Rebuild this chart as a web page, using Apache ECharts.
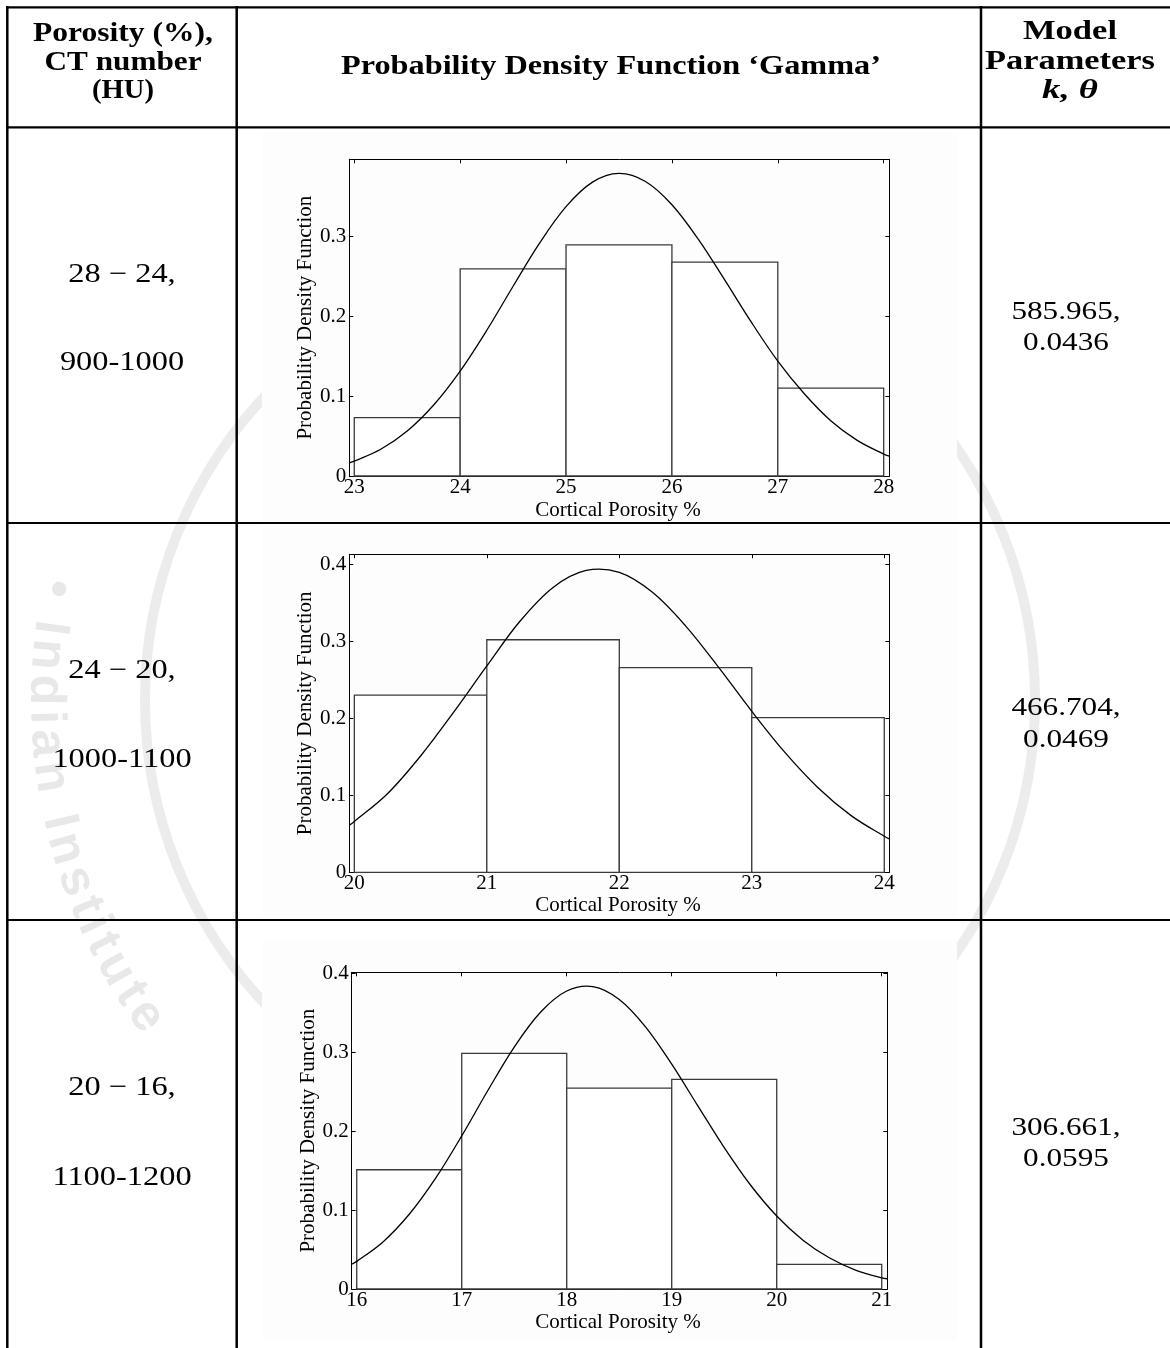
<!DOCTYPE html>
<html><head><meta charset="utf-8">
<script src="https://cdn.jsdelivr.net/npm/echarts@6/dist/echarts.min.js"></script>
<style>html,body{margin:0;padding:0;background:#fff;}#c{width:1170px;height:1348px;}</style>
</head><body><div id="c"></div>
<script>
// ---------------- DATA ----------------
const headerCol1 = ['Porosity (%),', 'CT number', '(HU)'];
const headerCol2 = 'Probability Density Function \u2018Gamma\u2019';
const headerCol3 = ['Model', 'Parameters', 'k, \u03b8'];
const rowPorosity = ['28 \u2212 24,', '24 \u2212 20,', '20 \u2212 16,'];
const rowCT = ['900-1000', '1000-1100', '1100-1200'];
const rowK = ['585.965,', '466.704,', '306.661,'];
const rowTheta = ['0.0436', '0.0469', '0.0595'];
const xAxisTitle = 'Cortical Porosity %';
const yAxisTitle = 'Probability Density Function';
const watermarkText = '\u2022 Indian Institute';

// histogram 1 (23-28)
const binEdges1 = [23, 24, 25, 26, 27, 28];
const binHeights1 = [0.073, 0.259, 0.289, 0.2675, 0.110];
const xTicks1 = [23, 24, 25, 26, 27, 28];
const yTicks1 = [0, 0.1, 0.2, 0.3];
const curveX1 = [22.953, 23, 23.25, 23.5, 23.75, 24, 24.25, 24.5, 24.75, 25, 25.25, 25.5, 25.75, 26, 26.25, 26.5, 26.75, 27, 27.25, 27.5, 27.75, 28, 28.053];
const curveY1 = [0.0164, 0.0186, 0.0335, 0.0563, 0.0888, 0.1312, 0.1819, 0.2373, 0.2912, 0.3368, 0.3674, 0.3783, 0.3682, 0.3392, 0.2959, 0.2448, 0.1923, 0.1436, 0.1028, 0.0691, 0.0445, 0.0274, 0.0248];
const xRange1 = [22.953, 28.053];
const yMax1 = 0.396;

// histogram 2 (20-24)
const binEdges2 = [20, 21, 22, 23, 24];
const binHeights2 = [0.230, 0.302, 0.2657, 0.201];
const xTicks2 = [20, 21, 22, 23, 24];
const yTicks2 = [0, 0.1, 0.2, 0.3, 0.4];
const curveX2 = [19.962, 20, 20.25, 20.5, 20.75, 21, 21.25, 21.5, 21.75, 22, 22.25, 22.5, 22.75, 23, 23.25, 23.5, 23.75, 24, 24.038];
const curveY2 = [0.061, 0.066, 0.102, 0.151, 0.208, 0.268, 0.326, 0.370, 0.392, 0.3894, 0.3636, 0.3201, 0.2661, 0.2091, 0.1557, 0.1099, 0.0736, 0.0468, 0.0435];
const xRange2 = [19.962, 24.038];
const yMax2 = 0.413;

// histogram 3 (16-21)
const binEdges3 = [16, 17, 18, 19, 20, 21];
const binHeights3 = [0.151, 0.2983, 0.2544, 0.2654, 0.0313];
const xTicks3 = [16, 17, 18, 19, 20, 21];
const yTicks3 = [0, 0.1, 0.2, 0.3, 0.4];
const curveX3 = [15.952, 16, 16.25, 16.5, 16.75, 17, 17.25, 17.5, 17.75, 18, 18.25, 18.5, 18.75, 19, 19.25, 19.5, 19.75, 20, 20.25, 20.5, 20.75, 21, 21.053];
const curveY3 = [0.0313, 0.0350, 0.0596, 0.0946, 0.1400, 0.1939, 0.2516, 0.3063, 0.3504, 0.3773, 0.3828, 0.3666, 0.3320, 0.2847, 0.2316, 0.1791, 0.1317, 0.0924, 0.0618, 0.0395, 0.0240, 0.0140, 0.0130];
const xRange3 = [15.952, 21.053];
const yMax3 = 0.401;

// ---------------- LAYOUT ----------------
const SERIF = "'Liberation Serif','Times New Roman',serif";
const charts = [
  {edges: binEdges1, heights: binHeights1, xt: xTicks1, yt: yTicks1, cx: curveX1, cy: curveY1, xr: xRange1, ymax: yMax1,
   grid: {left: 349.3, top: 159.3, width: 540, height: 316.7}, img: [262, 133, 695, 388], ytx: 305, xty: 510},
  {edges: binEdges2, heights: binHeights2, xt: xTicks2, yt: yTicks2, cx: curveX2, cy: curveY2, xr: xRange2, ymax: yMax2,
   grid: {left: 349.3, top: 554.3, width: 540, height: 318}, img: [262, 528, 695, 390], ytx: 305, xty: 905},
  {edges: binEdges3, heights: binHeights3, xt: xTicks3, yt: yTicks3, cx: curveX3, cy: curveY3, xr: xRange3, ymax: yMax3,
   grid: {left: 351.7, top: 972.3, width: 535.6, height: 316.7}, img: [262, 940, 695, 400], ytx: 308, xty: 1322}
];

const grids = [], xAxes = [], yAxes = [], series = [], graphics = [];

function axisCommon() {
  return {
    axisLine: {show: true, onZero: false, lineStyle: {color: '#000', width: 1}},
    splitLine: {show: false}
  };
}

charts.forEach((c, g) => {
  grids.push(Object.assign({containLabel: false}, c.grid));
  const tickStyle = {show: true, inside: true, length: 4, lineStyle: {color: '#000', width: 1}};
  xAxes.push(Object.assign(axisCommon(), {
    gridIndex: g, type: 'value', position: 'bottom', min: c.xr[0], max: c.xr[1],
    axisTick: Object.assign({customValues: c.xt}, tickStyle),
    axisLabel: {customValues: c.xt, color: '#000', fontFamily: SERIF, fontSize: 21, margin: 1}
  }));
  xAxes.push(Object.assign(axisCommon(), {
    gridIndex: g, type: 'value', position: 'top', min: c.xr[0], max: c.xr[1],
    axisTick: Object.assign({customValues: c.xt}, tickStyle),
    axisLabel: {show: false}
  }));
  yAxes.push(Object.assign(axisCommon(), {
    gridIndex: g, type: 'value', position: 'left', min: 0, max: c.ymax,
    axisTick: Object.assign({customValues: c.yt}, tickStyle),
    axisLabel: {customValues: c.yt, color: '#000', fontFamily: SERIF, fontSize: 21, margin: 3}
  }));
  yAxes.push(Object.assign(axisCommon(), {
    gridIndex: g, type: 'value', position: 'right', min: 0, max: c.ymax,
    axisTick: Object.assign({customValues: c.yt}, tickStyle),
    axisLabel: {show: false}
  }));
  const bins = c.heights.map((h, i) => [c.edges[i], c.edges[i + 1], h]);
  series.push({
    type: 'custom', xAxisIndex: 2 * g, yAxisIndex: 2 * g, data: bins,
    encode: {x: [0, 1], y: 2}, z: 2, silent: true,
    renderItem: function (params, api) {
      const p0 = api.coord([api.value(0), 0]);
      const p1 = api.coord([api.value(1), api.value(2)]);
      return {type: 'rect', shape: {x: p0[0], y: p1[1], width: p1[0] - p0[0], height: p0[1] - p1[1]},
        style: {fill: '#fff', stroke: '#3a3a3a', lineWidth: 1.3}};
    }
  });
  const pts = c.cx.map((x, i) => [x, c.cy[i]]);
  series.push({
    type: 'custom', xAxisIndex: 2 * g, yAxisIndex: 2 * g, z: 3, silent: true,
    data: pts, encode: {x: 0, y: 1},
    renderItem: function (params, api) {
      if (params.dataIndex !== 0) return null;
      return {type: 'polyline', shape: {points: pts.map(p => api.coord(p)), smooth: 0.35},
        style: {stroke: '#000', lineWidth: 1.3, fill: null}};
    }
  });
  // chart image background
  graphics.push({type: 'rect', z: -5, shape: {x: c.img[0], y: c.img[1], width: c.img[2], height: c.img[3]},
    style: {fill: '#fdfdfd'}});
  // axis titles
  graphics.push({type: 'text', z: 5, x: c.ytx, y: c.grid.top + c.grid.height / 2, rotation: Math.PI / 2,
    style: {text: yAxisTitle, fontFamily: SERIF, fontSize: 21, fill: '#000', align: 'center', verticalAlign: 'middle'}});
  graphics.push({type: 'text', z: 5, x: 618, y: c.xty,
    style: {text: xAxisTitle, fontFamily: SERIF, fontSize: 21, fill: '#000', align: 'center', verticalAlign: 'middle'}});
});

// watermark seal (faint) in the page background
const WM = {cx: 590, cy: 700, r: 445, tr: 545};
graphics.push({type: 'circle', z: -10, shape: {cx: WM.cx, cy: WM.cy, r: WM.r},
  style: {fill: 'none', stroke: '#ececec', lineWidth: 10}});
const mctx = document.createElement('canvas').getContext('2d');
(function () {
  const fs = 50, font = 'bold ' + fs + "px 'Liberation Sans', Arial, sans-serif";
  mctx.font = font;
  let a = 193 * Math.PI / 180;
  for (const ch of watermarkText) {
    const w = mctx.measureText(ch).width + 5;
    const da = w / WM.tr;
    const ac = a - da / 2;
    graphics.push({type: 'text', z: -10, x: WM.cx + WM.tr * Math.cos(ac), y: WM.cy + WM.tr * Math.sin(ac),
      rotation: -(ac - Math.PI / 2),
      style: {text: ch, font: font, fill: '#e8e8e8', align: 'center', verticalAlign: 'middle'}});
    a -= da;
  }
})();

// table lines
const LW = 2.2;
function hline(y) { graphics.push({type: 'line', z: 10, shape: {x1: 6, y1: y, x2: 1170, y2: y}, style: {stroke: '#000', lineWidth: LW}}); }
function vline(x) { graphics.push({type: 'line', z: 10, shape: {x1: x, y1: 6, x2: x, y2: 1348}, style: {stroke: '#000', lineWidth: LW + 0.3}}); }
[7.3, 127.3, 523, 920].forEach(hline);
[7.3, 236.7, 981].forEach(vline);

// table text, horizontally stretched like the reference scan
function txt(s, x, y, size, weight, style, targetW) {
  mctx.font = style + ' ' + weight + ' ' + size + 'px ' + SERIF;
  const w = mctx.measureText(s).width;
  const sx = targetW ? targetW / w : 1.2;
  graphics.push({type: 'text', z: 10, x: x, y: y, scaleX: sx, scaleY: 1,
    style: {text: s, fontFamily: SERIF, fontSize: size, fontWeight: weight, fontStyle: style,
      fill: '#000', align: 'center', verticalAlign: 'middle'}});
}
const h1W = [180, 157, 62], hY = [34, 63, 91];
headerCol1.forEach((s, i) => txt(s, 123, hY[i], 27.5, 'bold', 'normal', h1W[i]));
txt(headerCol2, 611, 67, 27.5, 'bold', 'normal', 540);
const h3W = [94, 170, 56], h3Y = [32, 62, 91];
headerCol3.forEach((s, i) => txt(s, 1070, h3Y[i], 27.5, 'bold', i === 2 ? 'italic' : 'normal', h3W[i]));

const leftY = [[275, 363], [671, 760], [1088, 1178]];
const rightY = [[312, 343], [708, 740], [1128, 1159]];
for (let i = 0; i < 3; i++) {
  txt(rowPorosity[i], 122, leftY[i][0], 27, 'normal', 'normal', null);
  txt(rowCT[i], 122, leftY[i][1], 27, 'normal', 'normal', null);
  txt(rowK[i], 1066, rightY[i][0], 26, 'normal', 'normal', null);
  txt(rowTheta[i], 1066, rightY[i][1], 26, 'normal', 'normal', null);
}

const chart = echarts.init(document.getElementById('c'), null, {renderer: 'canvas'});
chart.setOption({
  backgroundColor: '#fff',
  animation: false,
  grid: grids, xAxis: xAxes, yAxis: yAxes, series: series,
  graphic: {elements: graphics}
});
</script></body></html>
